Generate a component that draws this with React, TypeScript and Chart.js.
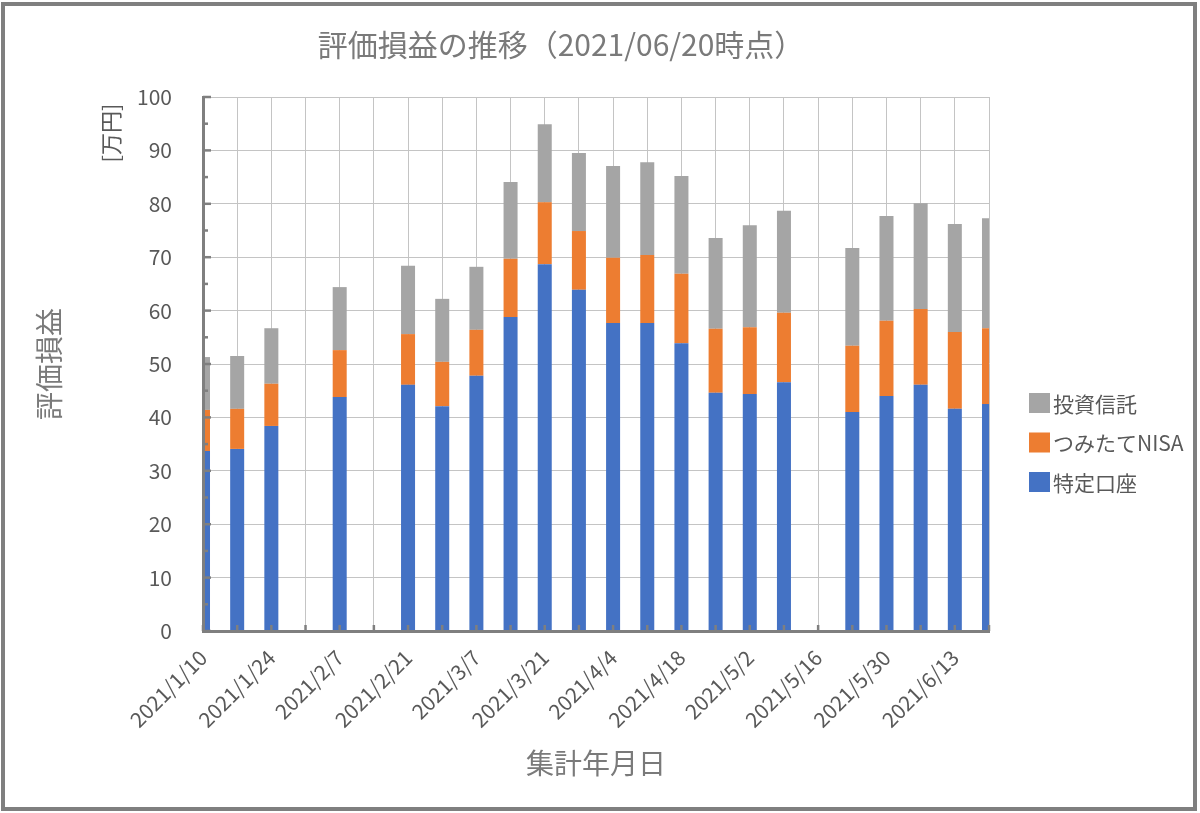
import { useEffect, useRef } from 'react'
import { Chart, registerables } from 'chart.js'

Chart.register(...registerables)

// 集計日 (weekly), labels shown every other week
const weeks = [
  '2021/1/10', '2021/1/17', '2021/1/24', '2021/1/31', '2021/2/7', '2021/2/14',
  '2021/2/21', '2021/2/28', '2021/3/7', '2021/3/14', '2021/3/21', '2021/3/28',
  '2021/4/4', '2021/4/11', '2021/4/18', '2021/4/25', '2021/5/2', '2021/5/9',
  '2021/5/16', '2021/5/23', '2021/5/30', '2021/6/6', '2021/6/13', '2021/6/20',
]

// 万円, null = no data that week
const tokutei = [
  33.7, 34.1, 38.4, null, 43.8, null, 46.1, 42.1, 47.8, 58.8, 68.7, 63.9,
  57.7, 57.7, 53.9, 44.6, 44.4, 46.6, null, 41.0, 44.0, 46.1, 41.6, 42.5,
]
const tsumitateNisa = [
  7.7, 7.5, 7.9, null, 8.8, null, 9.5, 8.3, 8.6, 10.9, 11.6, 11.0,
  12.2, 12.7, 13.0, 12.0, 12.5, 13.0, null, 12.4, 14.1, 14.2, 14.4, 14.2,
]
const toushin = [
  9.9, 9.9, 10.4, null, 11.8, null, 12.8, 11.8, 11.8, 14.4, 14.6, 14.6,
  17.2, 17.4, 18.3, 17.0, 19.1, 19.1, null, 18.3, 19.6, 19.8, 20.2, 20.6,
]

const FONT = '"Noto Sans CJK JP", "Noto Sans", sans-serif'

// inside tick marks, legend, unit label and outer frame
const decorPlugin = {
  id: 'decor',
  afterDatasetsDraw(chart: any) {
    const { ctx, chartArea, scales } = chart
    ctx.save()
    ctx.strokeStyle = '#7f7f7f'
    ctx.lineWidth = 2.5
    for (let v = 0; v <= 100; v += 5) {
      const py = scales.y.getPixelForValue(v)
      ctx.beginPath()
      ctx.moveTo(chartArea.left, py)
      ctx.lineTo(chartArea.left + (v % 10 === 0 ? 8 : 5), py)
      ctx.stroke()
    }
    for (let i = 0; i < weeks.length; i++) {
      const px = scales.x.getPixelForValue(i)
      ctx.beginPath()
      ctx.moveTo(px, chartArea.bottom)
      ctx.lineTo(px, chartArea.bottom - 6)
      ctx.stroke()
    }
    ctx.restore()
  },
  afterDraw(chart: any) {
    const { ctx } = chart
    ctx.save()
    // legend (reverse order, like the stack)
    const sets = [...chart.data.datasets].reverse()
    ctx.font = `21px ${FONT}`
    ctx.textBaseline = 'middle'
    sets.forEach((ds: any, i: number) => {
      const cy = 403 + i * 39.5
      ctx.fillStyle = ds.backgroundColor
      ctx.fillRect(1029, cy - 10, 21, 20)
      ctx.fillStyle = '#595959'
      ctx.fillText(ds.label, 1053, cy + 1)
    })
    // unit label
    ctx.translate(111, 133)
    ctx.rotate(-Math.PI / 2)
    ctx.textAlign = 'center'
    ctx.font = `22px ${FONT}`
    ctx.fillText('[万円]', 0, 0)
    ctx.restore()
    // frame
    ctx.save()
    ctx.strokeStyle = '#7f7f7f'
    ctx.lineWidth = 4
    ctx.strokeRect(3, 4, 1192, 805)
    ctx.restore()
  },
}

const HoldingsChart = () => {
  const chartRef = useRef<HTMLCanvasElement | null>(null)

  useEffect(() => {
    const ctx = chartRef.current?.getContext('2d')
    if (!ctx) return

    Chart.defaults.font.family = FONT

    new Chart(ctx, {
      type: 'bar',
      data: {
        labels: weeks,
        datasets: [
          { label: '特定口座', data: tokutei, backgroundColor: '#4472C4', clip: 0 },
          { label: 'つみたてNISA', data: tsumitateNisa, backgroundColor: '#ED7D31', clip: 0 },
          { label: '投資信託', data: toushin, backgroundColor: '#A5A5A5', clip: 0 },
        ],
      },
      options: {
        responsive: false,
        animation: false,
        layout: { padding: { left: 8, right: 86, top: 0, bottom: 10 } },
        datasets: { bar: { categoryPercentage: 1, barPercentage: 0.41 } },
        plugins: {
          legend: { display: false },
          tooltip: { enabled: false },
          title: {
            display: true,
            text: '評価損益の推移（2021/06/20時点）',
            color: '#7a7a7a',
            font: { size: 30, weight: 'normal' },
            padding: { top: 27, bottom: 34 },
          },
        },
        scales: {
          x: {
            stacked: true,
            offset: false,
            grid: { offset: false, color: '#c4c4c4', drawTicks: false },
            border: { color: '#7f7f7f', width: 3, z: 1 },
            ticks: {
              autoSkip: false,
              maxRotation: 45,
              minRotation: 45,
              padding: 14,
              color: '#595959',
              font: { size: 21 },
              callback: (_v: any, i: number) => (i % 2 === 0 ? weeks[i] : ''),
            },
            title: {
              display: true,
              text: '集計年月日',
              color: '#7a7a7a',
              font: { size: 28 },
              padding: { top: 0, bottom: 23 },
            },
            afterFit: (scale: any) => {
              scale.height = 172
            },
          },
          y: {
            stacked: true,
            min: 0,
            max: 100,
            grid: { color: '#c4c4c4', drawTicks: false },
            border: { color: '#7f7f7f', width: 3, z: 1 },
            ticks: {
              stepSize: 10,
              padding: 31,
              color: '#595959',
              font: { size: 21 },
            },
            title: {
              display: true,
              text: '評価損益',
              color: '#7a7a7a',
              font: { size: 28 },
              padding: { top: 25, bottom: 0 },
            },
            afterFit: (scale: any) => {
              scale.width = 195
            },
          },
          // empty axis that keeps room on the right for the legend
          legendSpace: {
            type: 'linear',
            position: 'right',
            grid: { display: false },
            border: { display: false },
            ticks: { display: false },
            afterFit: (scale: any) => {
              scale.width = 125
            },
          },
        },
      },
      plugins: [decorPlugin],
    })

    return () => {
      Chart.getChart(ctx)?.destroy()
    }
  }, [])

  return (
    <div style={{ position: 'fixed', left: 0, top: 0, width: 1200, height: 813, background: '#fff' }}>
      <canvas ref={chartRef} width={1200} height={813} style={{ display: 'block' }} />
    </div>
  )
}

export default function App() {
  return <HoldingsChart />
}
